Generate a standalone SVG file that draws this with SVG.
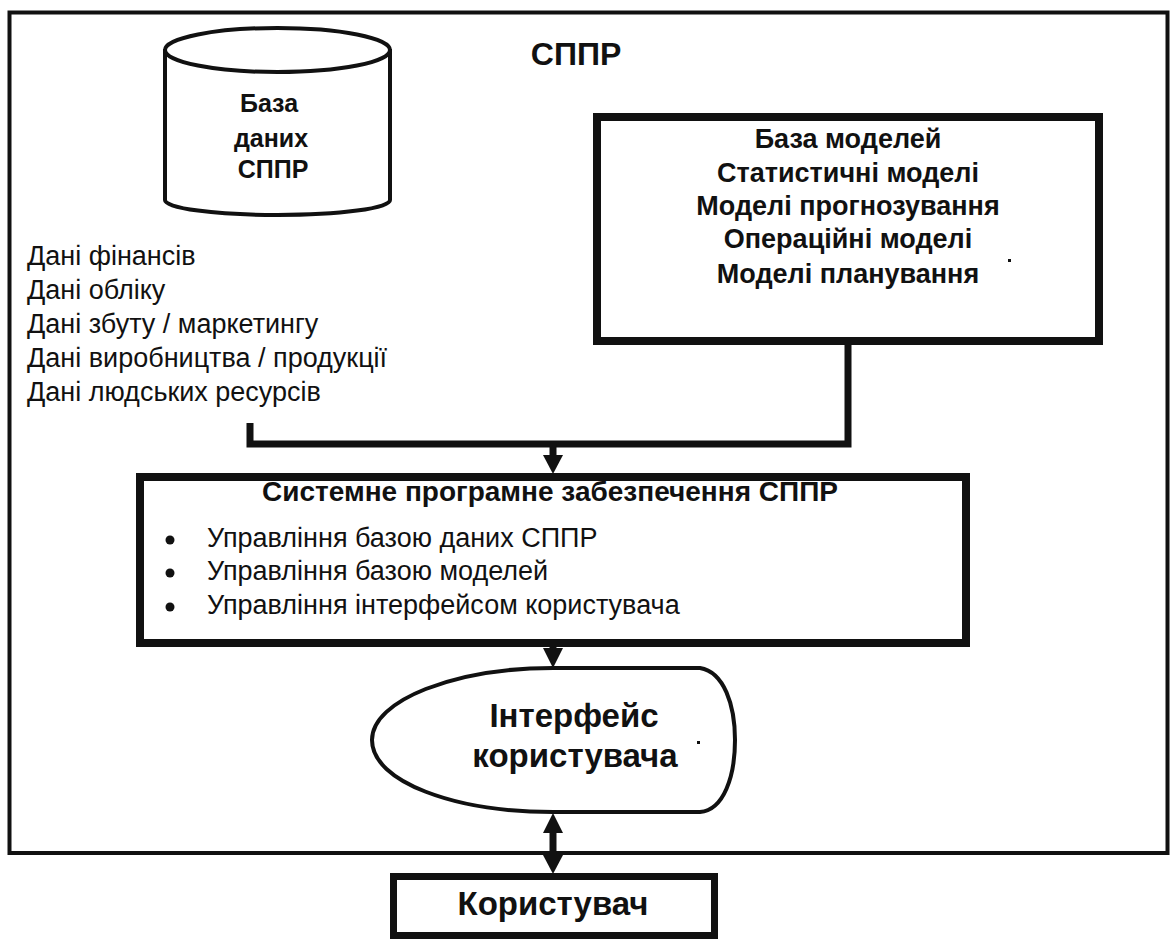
<svg xmlns="http://www.w3.org/2000/svg" width="1173" height="941" viewBox="0 0 1173 941">
<style>
.b{font-family:"Liberation Sans",Arial,sans-serif;font-weight:bold;fill:#111}
.r{font-family:"Liberation Sans",Arial,sans-serif;fill:#111}
.thin{fill:#fff;stroke:#111;stroke-width:4}
.thick{fill:#fff;stroke:#111;stroke-width:8}
.conn{fill:none;stroke:#111;stroke-width:7}
</style>
<rect width="1173" height="941" fill="#fff"/>
<g id="frame">
<rect class="thin" x="9.5" y="12.5" width="1158" height="840.5" fill="none"/>
<text class="b" x="576" y="65" font-size="32" text-anchor="middle">СППР</text>
</g>
<g id="db">
<path class="thin" d="M165,49 V200 A112.5,15 0 0 0 390,200 V49"/>
<ellipse class="thin" cx="277.5" cy="50" rx="112.5" ry="22"/>
<text class="b" x="269" y="112" font-size="25" text-anchor="middle">База</text>
<text class="b" x="271" y="147" font-size="25" text-anchor="middle">даних</text>
<text class="b" x="273" y="178" font-size="25" text-anchor="middle">СППР</text>
</g>
<g id="data-list" class="r" font-size="27">
<text x="27" y="265">Дані фінансів</text>
<text x="27" y="299">Дані обліку</text>
<text x="27" y="333">Дані збуту / маркетингу</text>
<text x="27" y="367">Дані виробництва / продукції</text>
<text x="27" y="401">Дані людських ресурсів</text>
</g>
<g id="models">
<rect class="thick" x="597" y="117" width="502" height="224"/>
<g class="b" font-size="27" text-anchor="middle">
<text x="848" y="148">База моделей</text>
<text x="848" y="182">Статистичні моделі</text>
<text x="848" y="215">Моделі прогнозування</text>
<text x="848" y="248">Операційні моделі</text>
<text x="848" y="283">Моделі планування</text>
</g>
<rect x="1008" y="259" width="3" height="3" fill="#111"/>
</g>
<g id="connectors">
<path class="conn" d="M250,423 V444 H848 V343"/>
<path class="conn" d="M553,444 V458"/>
<path d="M543,455 L563,455 L553,474 Z" fill="#111"/>
<path class="conn" d="M553,647 V652"/>
<path d="M543,648 L563,648 L553,668 Z" fill="#111"/>
<path class="conn" d="M553,830 V858"/>
<path d="M543,833 L563,833 L553,813 Z" fill="#111"/>
<path d="M543,855 L563,855 L553,874 Z" fill="#111"/>
</g>
<g id="system">
<rect class="thick" x="140" y="477" width="826" height="166"/>
<text class="b" x="550" y="501" font-size="28" text-anchor="middle">Системне програмне забезпечення СППР</text>
<g class="r" font-size="27">
<circle cx="170" cy="540" r="4.5" fill="#111"/>
<circle cx="170" cy="573" r="4.5" fill="#111"/>
<circle cx="170" cy="607" r="4.5" fill="#111"/>
<text x="207" y="547">Управління базою даних СППР</text>
<text x="207" y="580">Управління базою моделей</text>
<text x="207" y="614">Управління інтерфейсом користувача</text>
</g>
</g>
<g id="interface">
<path class="thin" d="M553,668 H700 C724,672 735,705 735,740 C735,776 724,810 700,812 H553 C455,812 372,782 372,740 C372,700 455,668 553,668 Z"/>
<text class="b" x="574" y="727" font-size="33" text-anchor="middle">Інтерфейс</text>
<text class="b" x="575" y="767" font-size="33" text-anchor="middle">користувача</text>
<rect x="697" y="741" width="3" height="3" fill="#111"/>
</g>
<g id="user">
<rect x="393.5" y="876.5" width="321" height="59" fill="#fff" stroke="#111" stroke-width="7"/>
<text class="b" x="553" y="915" font-size="33" text-anchor="middle">Користувач</text>
</g>
</svg>
